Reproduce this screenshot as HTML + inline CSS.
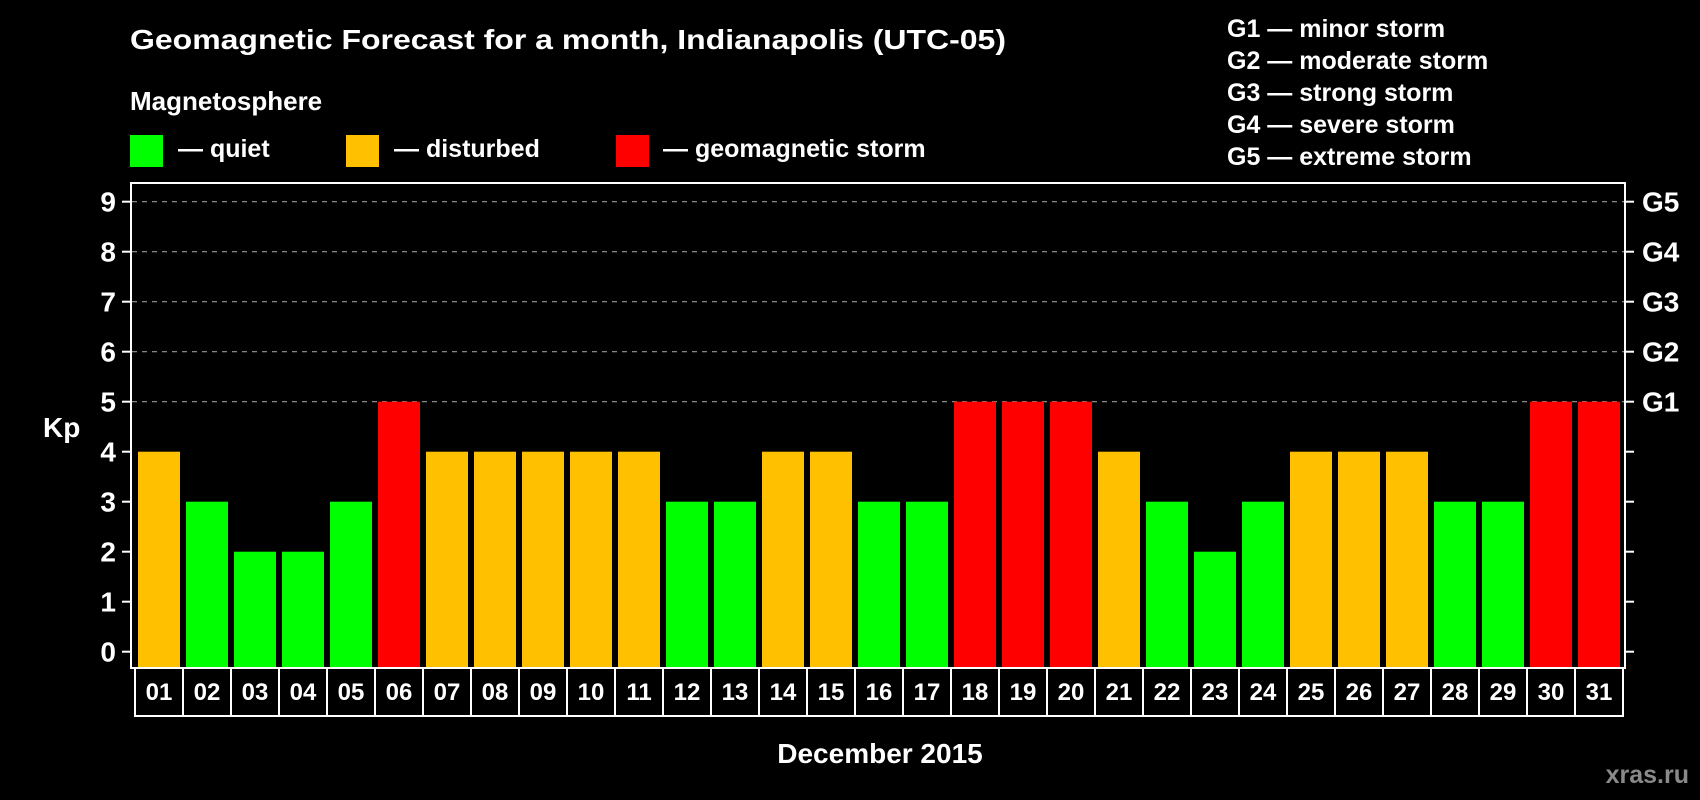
<!DOCTYPE html>
<html><head><meta charset="utf-8"><style>
html,body{margin:0;padding:0;background:#000;width:1700px;height:800px;overflow:hidden}
svg{display:block}
text{font-family:"Liberation Sans",Arial,sans-serif;font-weight:bold;fill:#fff}
</style></head><body>
<svg id="chart" width="1700" height="800" viewBox="0 0 1700 800" xmlns="http://www.w3.org/2000/svg">
<rect x="0" y="0" width="1700" height="800" fill="#000"/>
<text x="130" y="49" font-size="28" textLength="876" lengthAdjust="spacingAndGlyphs">Geomagnetic Forecast for a month, Indianapolis (UTC-05)</text>
<text x="130" y="110" font-size="26">Magnetosphere</text>
<g><rect x="130" y="135" width="33" height="32" fill="#00ff00"/><text x="178" y="157" font-size="25">— quiet</text></g>
<g><rect x="346" y="135" width="33" height="32" fill="#ffc000"/><text x="394" y="157" font-size="25">— disturbed</text></g>
<g><rect x="616" y="135" width="33" height="32" fill="#ff0000"/><text x="663" y="157" font-size="25">— geomagnetic storm</text></g>
<g font-size="25">
<text x="1227" y="37" font-size="25">G1 — minor storm</text>
<text x="1227" y="69" font-size="25">G2 — moderate storm</text>
<text x="1227" y="101" font-size="25">G3 — strong storm</text>
<text x="1227" y="133" font-size="25">G4 — severe storm</text>
<text x="1227" y="165" font-size="25">G5 — extreme storm</text>
</g>
<g id="grid"></g>
<g id="bars"></g>
<rect x="131" y="183" width="1494" height="485" fill="none" stroke="#fff" stroke-width="2"/>
<g id="axes"></g>
<text x="43" y="437" font-size="28">Kp</text>
<text x="880" y="763" font-size="28" text-anchor="middle">December 2015</text>
<text x="1689" y="783" font-size="25" text-anchor="end" style="fill:#8a8a8a">xras.ru</text>
</svg>
<script>
const days = ["01","02","03","04","05","06","07","08","09","10","11","12","13","14","15","16","17","18","19","20","21","22","23","24","25","26","27","28","29","30","31"];
const kpValues = [4,3,2,2,3,5,4,4,4,4,4,3,3,4,4,3,3,5,5,5,4,3,2,3,4,4,4,3,3,5,5];
const yTicks = [0,1,2,3,4,5,6,7,8,9];
const gLevels = ["G1","G2","G3","G4","G5"];
const gKp = [5,6,7,8,9];

const NS = "http://www.w3.org/2000/svg";
const y0 = 651.7, unit = 50;
function yScale(v){ return y0 - v*unit; }
const cellLeft = 135, cellW = 48;
function xCell(i){ return cellLeft + i*cellW; }
function color(v){ return v >= 5 ? "#ff0000" : (v >= 4 ? "#ffc000" : "#00ff00"); }
function mk(tag, attrs, parent){ const e=document.createElementNS(NS,tag); for(const k in attrs) e.setAttribute(k,attrs[k]); parent.appendChild(e); return e; }

const grid=document.getElementById('grid'), bars=document.getElementById('bars'), axes=document.getElementById('axes');
gKp.forEach(function(v){
  const l=mk('line',{x1:132,x2:1624,y1:yScale(v),y2:yScale(v),stroke:'#999','stroke-width':1.2,'stroke-dasharray':'5,5'},grid);
  
  
});
kpValues.forEach(function(v,i){
  const r=mk('rect',{x:xCell(i)+3,y:yScale(v),width:42,height:668-yScale(v),fill:color(v)},bars);
  
  
});
yTicks.forEach(function(v){
  const y=yScale(v);
  mk('line',{x1:122,x2:131,y1:y,y2:y,stroke:'#fff','stroke-width':2},axes);
  mk('line',{x1:1625,x2:1634,y1:y,y2:y,stroke:'#fff','stroke-width':2},axes);
  const t=mk('text',{x:116,y:y+10,'font-size':28,'text-anchor':'end'},axes);
  t.textContent=v;
  
  
});
gLevels.forEach(function(g,i){
  const t=mk('text',{x:1642,y:yScale(gKp[i])+10,'font-size':28},axes);
  t.textContent=g;
  
  
});
days.forEach(function(d,i){
  const c=mk('rect',{x:xCell(i),y:668,width:cellW,height:48,fill:'none',stroke:'#fff','stroke-width':2},axes);
  
  
  const t=mk('text',{x:xCell(i)+cellW/2,y:700,'font-size':24,'text-anchor':'middle'},axes);
  t.textContent=d;
  
  
});
</script>
</body></html>
